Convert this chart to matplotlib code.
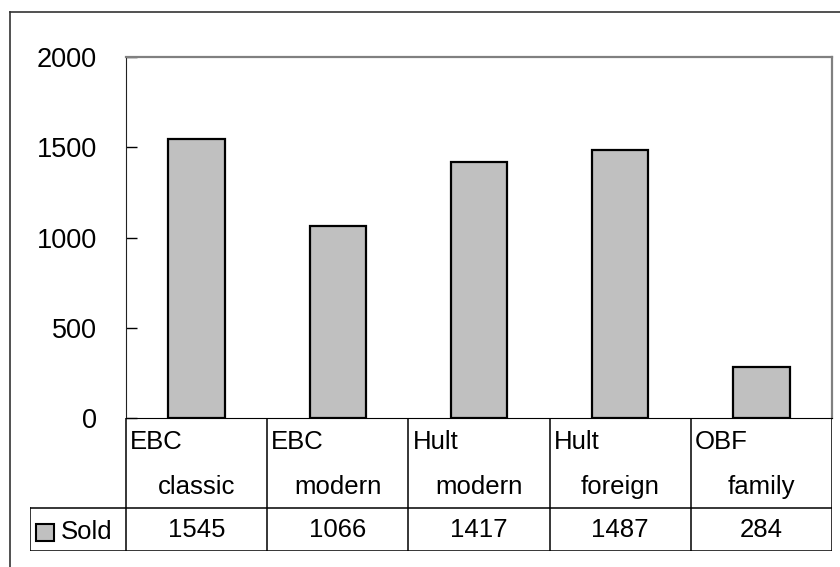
import matplotlib.pyplot as plt
from matplotlib.lines import Line2D
from matplotlib.patches import Rectangle

plt.rcParams['font.family'] = ['Liberation Sans', 'DejaVu Sans']

brand = ['EBC', 'EBC', 'Hult', 'Hult', 'OBF']
kind = ['classic', 'modern', 'modern', 'foreign', 'family']
sold = [1545, 1066, 1417, 1487, 284]
series_name = 'Sold'
yticks = [0, 500, 1000, 1500, 2000]

W, H = 840, 567
fig = plt.figure(figsize=(W / 100, H / 100), dpi=100)


def fx(px):
    return px / W


def fy(py):
    return 1 - py / H


# outer chart frame (runs off the right and bottom edges)
fig.add_artist(Line2D([fx(9.5), fx(9.5)], [fy(11.5), fy(H + 5)], color='#333333', lw=1.2))
fig.add_artist(Line2D([fx(9.5), fx(W + 5)], [fy(11.5), fy(11.5)], color='#333333', lw=1.2))

# plot area
left, right, top, bottom = 126, 832, 57, 418
ax = fig.add_axes([fx(left), fy(bottom), fx(right - left), (bottom - top) / H])
x = list(range(len(sold)))
ax.bar(x, sold, width=0.4, color='#C0C0C0', edgecolor='black', linewidth=1.6, zorder=3)
ax.set_xlim(-0.5, len(sold) - 0.5)
ax.set_ylim(0, 2000)
ax.set_yticks(yticks)
ax.set_yticklabels([str(v) for v in yticks], fontsize=19.5)
ax.tick_params(axis='y', direction='in', length=8, width=1, pad=21, colors='black')
ax.set_xticks([])
ax.spines['left'].set_color('#222222')
ax.spines['bottom'].set_color('black')
ax.spines['top'].set_color('#808080')
ax.spines['right'].set_color('#808080')
ax.spines['top'].set_linewidth(1.6)
ax.spines['right'].set_linewidth(1.6)

# data table below the plot
unit = (right - left) / len(sold)
tab_left, tab_bottom = 30, 551
tab = fig.add_axes([fx(tab_left), fy(tab_bottom), fx(right - tab_left), (tab_bottom - bottom) / H])
x0 = -0.5 - (left - tab_left) / unit
x1 = len(sold) - 0.5
tab.set_xlim(x0, x1)
tab.set_ylim(0, tab_bottom - bottom)
tab.axis('off')

row_top = tab_bottom - bottom
row_mid = tab_bottom - 508
lc = dict(color='black', lw=1.1)
tab.plot([x0, x1], [row_mid, row_mid], **lc)
tab.plot([x0, x1], [0.5, 0.5], **lc)
tab.plot([x0, x0], [0, row_mid], **lc)
for k in range(len(sold) + 1):
    tab.plot([k - 0.5, k - 0.5], [0, row_top], **lc)

for i in x:
    tab.text(i - 0.5 + 4 / unit, tab_bottom - 449, brand[i], fontsize=18.5,
             ha='left', va='baseline')
    tab.text(i, tab_bottom - 494, kind[i], fontsize=18.5, ha='center', va='baseline')
    tab.text(i, tab_bottom - 537, str(sold[i]), fontsize=18.5, ha='center', va='baseline')

# legend key + series name
tab.add_patch(Rectangle((x0 + 6 / unit, tab_bottom - 541), 18 / unit, 17,
                        facecolor='#C0C0C0', edgecolor='black', lw=1.5))
tab.text(x0 + 31 / unit, tab_bottom - 539, series_name, fontsize=18.5,
         ha='left', va='baseline')

fig.savefig('out.png', dpi=100)
